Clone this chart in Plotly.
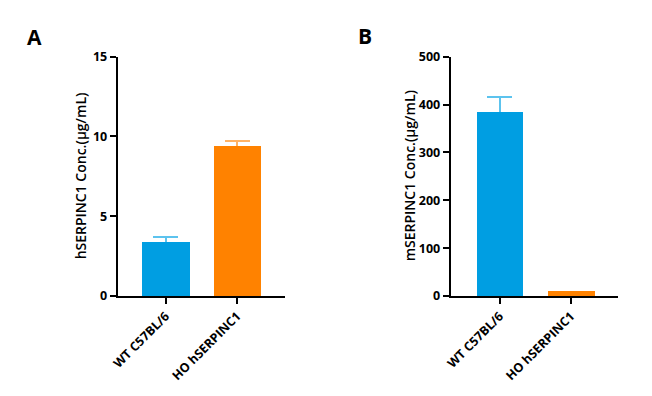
import plotly.graph_objects as go

categories = ["WT C57BL/6", "HO hSERPINC1"]
h_values = [3.40, 9.40]
h_err = [0.28, 0.33]
m_values = [384.5, 11.0]
m_err = [31.5, 0.0]
bar_colors = ["#009EE2", "#FF8200"]
err_colors = ["#5CC3EE", "#FFB366"]
h_ticks = [0, 5, 10, 15]
m_ticks = [0, 100, 200, 300, 400, 500]

# page body adds an 8px offset; the figure is sized to fill the rest of the window
OX, OY = 8, 8
W, H = 644, 388
FONT = "Open Sans"

def px(x):
    return (x - OX) / W

def py(y):
    return 1 - (y - OY) / H

fig = go.Figure()

def add_bars(xa, ya, vals, errs):
    # first pass: bars carrying the (symmetric) error bars
    for i, c in enumerate(categories):
        err = dict(type="data", array=[errs[i]], symmetric=True,
                   color=err_colors[i], thickness=2, width=12.5,
                   visible=errs[i] > 0)
        fig.add_trace(go.Bar(
            x=[c], y=[vals[i]], xaxis=xa, yaxis=ya,
            marker=dict(color=bar_colors[i], line=dict(width=0)),
            width=0.66, error_y=err,
            showlegend=False, hoverinfo="skip"))
    # second pass: same bars on top, hiding the lower half of the error bars
    for i, c in enumerate(categories):
        fig.add_trace(go.Bar(
            x=[c], y=[vals[i]], xaxis=xa, yaxis=ya,
            marker=dict(color=bar_colors[i], line=dict(width=0)),
            width=0.66, showlegend=False, hoverinfo="skip"))

add_bars("x", "y", h_values, h_err)
add_bars("x2", "y2", m_values, m_err)

ydom = [py(296), py(56.7)]
axis_common = dict(showline=True, linecolor="black", linewidth=2, ticks="outside",
                   tickwidth=2, tickcolor="black", showgrid=False, zeroline=False,
                   automargin=False,
                   tickfont=dict(family=FONT, size=12.5, color="black", weight="bold"))

fig.update_layout(
    width=W, height=H, margin=dict(l=0, r=0, t=0, b=0, pad=0, autoexpand=False),
    plot_bgcolor="white", paper_bgcolor="white", bargap=0, barmode="overlay",
    xaxis=dict(domain=[px(117.7), px(285)], range=[-0.673, 1.673], tickangle=-45,
               ticklen=6, anchor="y", **axis_common),
    yaxis=dict(domain=ydom, range=[0, 15], tickvals=h_ticks, ticklen=6, anchor="x",
               **axis_common),
    xaxis2=dict(domain=[px(450.7), px(618)], range=[-0.69, 1.665], tickangle=-45,
                ticklen=6, anchor="y2", **axis_common),
    yaxis2=dict(domain=ydom, range=[0, 500], tickvals=m_ticks, ticklen=6, anchor="x2",
                **axis_common),
)

ymid = (ydom[0] + ydom[1]) / 2
fig.add_annotation(text="hSERPINC1 Conc.(µg/mL)", x=px(80), y=ymid, xref="paper", yref="paper",
                   textangle=-90, showarrow=False, xanchor="center", yanchor="middle",
                   font=dict(family=FONT, size=14, color="black", weight=600))
fig.add_annotation(text="mSERPINC1 Conc.(µg/mL)", x=px(409), y=ymid, xref="paper", yref="paper",
                   textangle=-90, showarrow=False, xanchor="center", yanchor="middle",
                   font=dict(family=FONT, size=14, color="black", weight=600))
fig.add_annotation(text="A", x=px(34), y=py(37), xref="paper", yref="paper",
                   showarrow=False, xanchor="center", yanchor="middle",
                   font=dict(family=FONT, size=21, color="black", weight="bold"))
fig.add_annotation(text="B", x=px(365), y=py(36), xref="paper", yref="paper",
                   showarrow=False, xanchor="center", yanchor="middle",
                   font=dict(family=FONT, size=21, color="black", weight="bold"))

fig.write_html("out.html")
